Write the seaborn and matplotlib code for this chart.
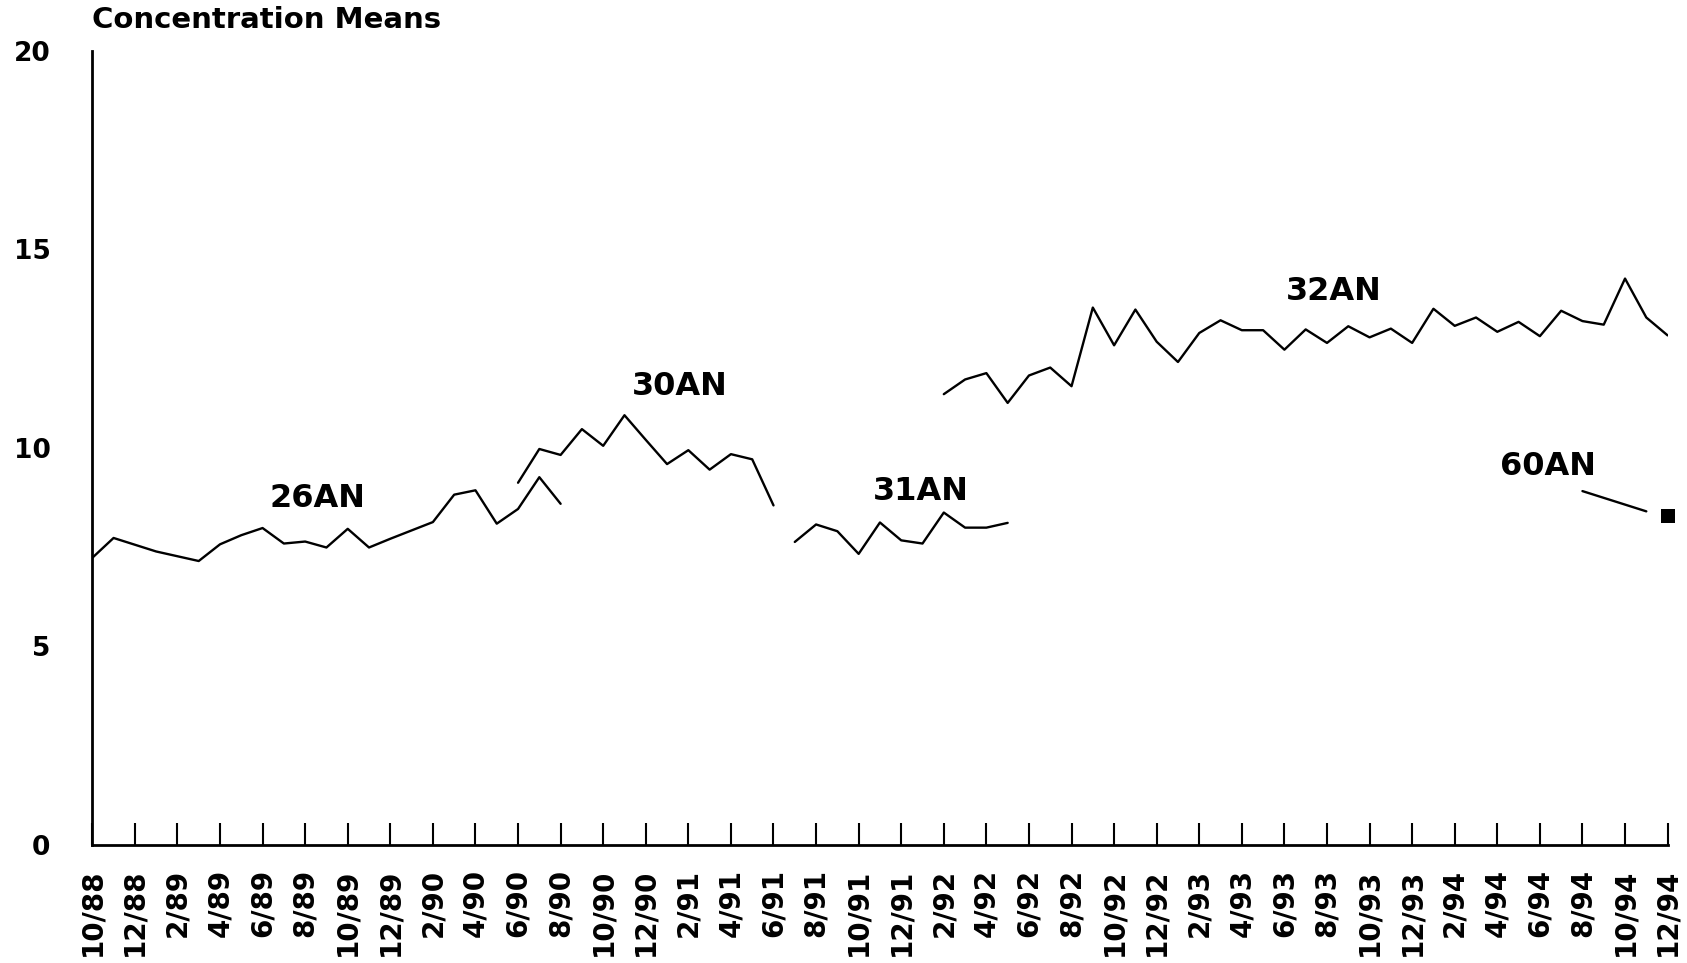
import matplotlib
matplotlib.use('Agg')
import matplotlib.pyplot as plt
import seaborn as sns
import pandas as pd

# months from 10/88 to 12/94
months = []
for year in range(88, 95):
    for m in range(1, 13):
        if (year == 88 and m < 10):
            continue
        months.append(f'{m}/{year}')

# series: (first month index, values)
s26_start = 0
s26 = [7.23, 7.73, 7.56, 7.39, 7.27, 7.15, 7.57, 7.80, 7.98, 7.59, 7.64, 7.49,
       7.96, 7.49, 7.71, 7.92, 8.13, 8.82, 8.93, 8.09, 8.46, 9.26, 8.59]
s30_start = 20
s30 = [9.12, 9.97, 9.82, 10.47, 10.05, 10.82, 10.20, 9.59, 9.94, 9.45, 9.84, 9.71, 8.55]
s31_start = 33
s31 = [7.63, 8.07, 7.90, 7.33, 8.12, 7.67, 7.59, 8.37, 7.99, 7.99, 8.11]
s32_start = 40
s32 = [11.35, 11.72, 11.88, 11.13, 11.82, 12.02, 11.55, 13.53, 12.58, 13.48,
       12.67, 12.16, 12.89, 13.21, 12.96, 12.96, 12.47, 12.98, 12.64, 13.06,
       12.78, 13.00, 12.64, 13.50, 13.07, 13.28, 12.92, 13.17, 12.81, 13.45,
       13.19, 13.10, 14.26, 13.28, 12.83]
s60_start = 70
s60 = [8.91, 8.74, 8.57, 8.40]
last_month = 74
last_value = 8.28

series_labels = ['26AN', '30AN', '31AN', '32AN', '60AN']
# label anchor (month index, value at baseline)
label_x = [10.6, 27.6, 38.9, 58.3, 68.4]
label_y = [8.51, 11.32, 8.68, 13.72, 9.31]

rows = []
for name, start, vals in [('26AN', s26_start, s26), ('30AN', s30_start, s30),
                          ('31AN', s31_start, s31), ('32AN', s32_start, s32),
                          ('60AN', s60_start, s60)]:
    for k, v in enumerate(vals):
        rows.append({'month': start + k, 'value': v, 'series': name})
df = pd.DataFrame(rows)

sns.set_style('white')
plt.rcParams['font.family'] = ['DejaVu Sans']
plt.rcParams['font.weight'] = 'bold'
plt.rcParams['text.color'] = 'black'
plt.rcParams['xtick.color'] = 'black'
plt.rcParams['ytick.color'] = 'black'

fig = plt.figure(figsize=(16.87, 9.63), dpi=100)
ax = fig.add_axes([0.0547, 0.1225, 0.9338, 0.825])

sns.lineplot(data=df, x='month', y='value', hue='series',
             palette={n: 'black' for n in series_labels}, linewidth=1.7,
             legend=False, ax=ax, estimator=None)
sns.scatterplot(x=[last_month], y=[last_value], marker='s', color='black',
                s=110, linewidth=0, ax=ax, zorder=5, clip_on=False)

for lab, lx, ly in zip(series_labels, label_x, label_y):
    ax.text(lx, ly, lab, ha='center', va='baseline', fontsize=23,
            fontweight='bold', color='black')

ax.set_xlim(0, len(months) - 1)
ax.set_ylim(0, 20)
ax.set_xticks(range(0, len(months), 2))
ax.set_xticklabels(months[::2], rotation=90, fontsize=20, fontweight='bold')
ax.set_yticks([0, 5, 10, 15, 20])
ax.set_yticklabels(['0', '5', '10', '15', '20'], fontsize=19, fontweight='bold')
ax.tick_params(axis='x', bottom=True, direction='in', length=15.6, width=1.5,
               color='black', labelcolor='black', pad=17)
ax.tick_params(axis='y', left=False, length=0, pad=30, labelcolor='black')
ax.set_xlabel('')
ax.set_ylabel('')

for side in ['top', 'right']:
    ax.spines[side].set_visible(False)
for side in ['left', 'bottom']:
    ax.spines[side].set_color('black')
    ax.spines[side].set_linewidth(2)

fig.text(92 / 1687, 1 - 28 / 963, 'Concentration Means', fontsize=21,
         fontweight='bold', ha='left', va='baseline', color='black')

fig.savefig('out.png', dpi=100)
